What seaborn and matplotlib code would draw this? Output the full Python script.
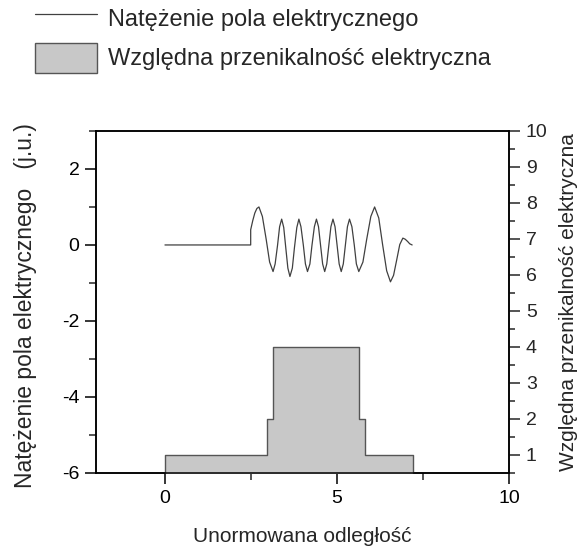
import numpy as np
import pandas as pd
import matplotlib
matplotlib.use('Agg')
import matplotlib.pyplot as plt
from matplotlib.lines import Line2D
from matplotlib.patches import Patch
from matplotlib.ticker import MultipleLocator
import seaborn as sns

# Natezenie pola - punkty
pole_x = [0.0, 2.49, 2.49, 2.55, 2.61, 2.67, 2.73,
          2.83, 2.94, 3.04, 3.14,
          3.20, 3.27, 3.33, 3.39,
          3.45, 3.51, 3.57, 3.63,
          3.70, 3.76, 3.83, 3.89,
          3.95, 4.02, 4.08, 4.14,
          4.21, 4.27, 4.34, 4.40,
          4.46, 4.52, 4.58, 4.64,
          4.70, 4.76, 4.82, 4.88,
          4.94, 5.00, 5.06, 5.12,
          5.18, 5.24, 5.30, 5.36,
          5.43, 5.50, 5.56, 5.63,
          5.75, 5.86, 5.98, 6.09,
          6.21, 6.32, 6.44, 6.55,
          6.64, 6.73, 6.82, 6.91,
          6.98, 7.05, 7.11, 7.18]
pole_y = [0.0, 0.0, 0.40, 0.64, 0.84, 0.96, 1.00,
          0.75, 0.15, -0.45, -0.70,
          -0.50, -0.01, 0.48, 0.68,
          0.46, -0.08, -0.61, -0.83,
          -0.61, -0.08, 0.46, 0.68,
          0.48, -0.01, -0.50, -0.70,
          -0.50, -0.01, 0.48, 0.68,
          0.48, -0.01, -0.50, -0.70,
          -0.50, -0.01, 0.48, 0.68,
          0.48, -0.01, -0.50, -0.70,
          -0.50, -0.01, 0.48, 0.68,
          0.48, -0.01, -0.50, -0.70,
          -0.45, 0.15, 0.75, 1.00,
          0.71, 0.02, -0.68, -0.97,
          -0.80, -0.40, 0.01, 0.18,
          0.15, 0.09, 0.03, 0.0]

# Wzgledna przenikalnosc - granice warstw i wartosci
granice = [0.0, 2.95, 3.13, 5.63, 5.80, 7.20]
przenikalnosc = [1, 2, 4, 2, 1]

sns.set_style('ticks')
plt.rcParams['font.family'] = ['Liberation Sans', 'DejaVu Sans']
plt.rcParams['axes.linewidth'] = 1.1
plt.rcParams['axes.unicode_minus'] = False

fig = plt.figure(figsize=(5.86, 5.48), dpi=100)
ax = fig.add_axes([0.164, 0.137, 0.705, 0.624])
ax2 = ax.twinx()

dane = pd.DataFrame({'x': pole_x, 'y': pole_y})
sns.lineplot(data=dane, x='x', y='y', sort=False, estimator=None, color='#404040', lw=0.9, ax=ax)

srodki = [(granice[i] + granice[i + 1]) / 2 for i in range(len(przenikalnosc))]
sns.histplot(x=srodki, weights=przenikalnosc, bins=granice, element='step', fill=True,
             color='#c8c8c8', edgecolor='#555555', linewidth=1.0, alpha=1, ax=ax2)

ax.set_xlim(-2, 10)
ax.set_ylim(-6, 3)
ax2.set_ylim(0.5, 10)
ax.xaxis.set_major_locator(MultipleLocator(5))
ax.xaxis.set_minor_locator(MultipleLocator(2.5))
ax.yaxis.set_major_locator(MultipleLocator(2))
ax.yaxis.set_minor_locator(MultipleLocator(1))
ax2.yaxis.set_major_locator(MultipleLocator(1))
ax2.yaxis.set_minor_locator(MultipleLocator(0.5))

for a in (ax, ax2):
    for s in a.spines.values():
        s.set_visible(True)
        s.set_color('black')
ax.tick_params(which='major', length=8, width=1.1, labelsize=14, pad=4, colors='black')
ax.tick_params(which='minor', length=5, width=1.1)
ax.tick_params(top=False, right=False, which='both')
ax2.tick_params(which='major', length=8, width=1.1, labelsize=14, pad=4)
ax2.tick_params(which='minor', length=4.5, width=1.1)
ax2.tick_params(axis='x', which='both', top=False)

ax.set_xlabel('Unormowana odległość', fontsize=15, labelpad=15)
ax.set_ylabel('Natężenie pola elektrycznego   (j.u.)', fontsize=16.5)
ax.yaxis.set_label_coords(-0.143, 0.49)
ax2.set_ylabel('Względna przenikalność elektryczna', fontsize=15, labelpad=8)

uchwyty = [Line2D([], [], color='#404040', lw=0.9),
           Patch(facecolor='#c8c8c8', edgecolor='#555555', linewidth=1.0)]
fig.legend(uchwyty, ['Natężenie pola elektrycznego', 'Względna przenikalność elektryczna'],
           loc='upper left', bbox_to_anchor=(0.06, 0.995), frameon=False, fontsize=17,
           handlelength=2.6, handleheight=1.6, handletextpad=0.5, labelspacing=0.4,
           borderpad=0.0, borderaxespad=0.0)

fig.savefig('out.png', dpi=100)
